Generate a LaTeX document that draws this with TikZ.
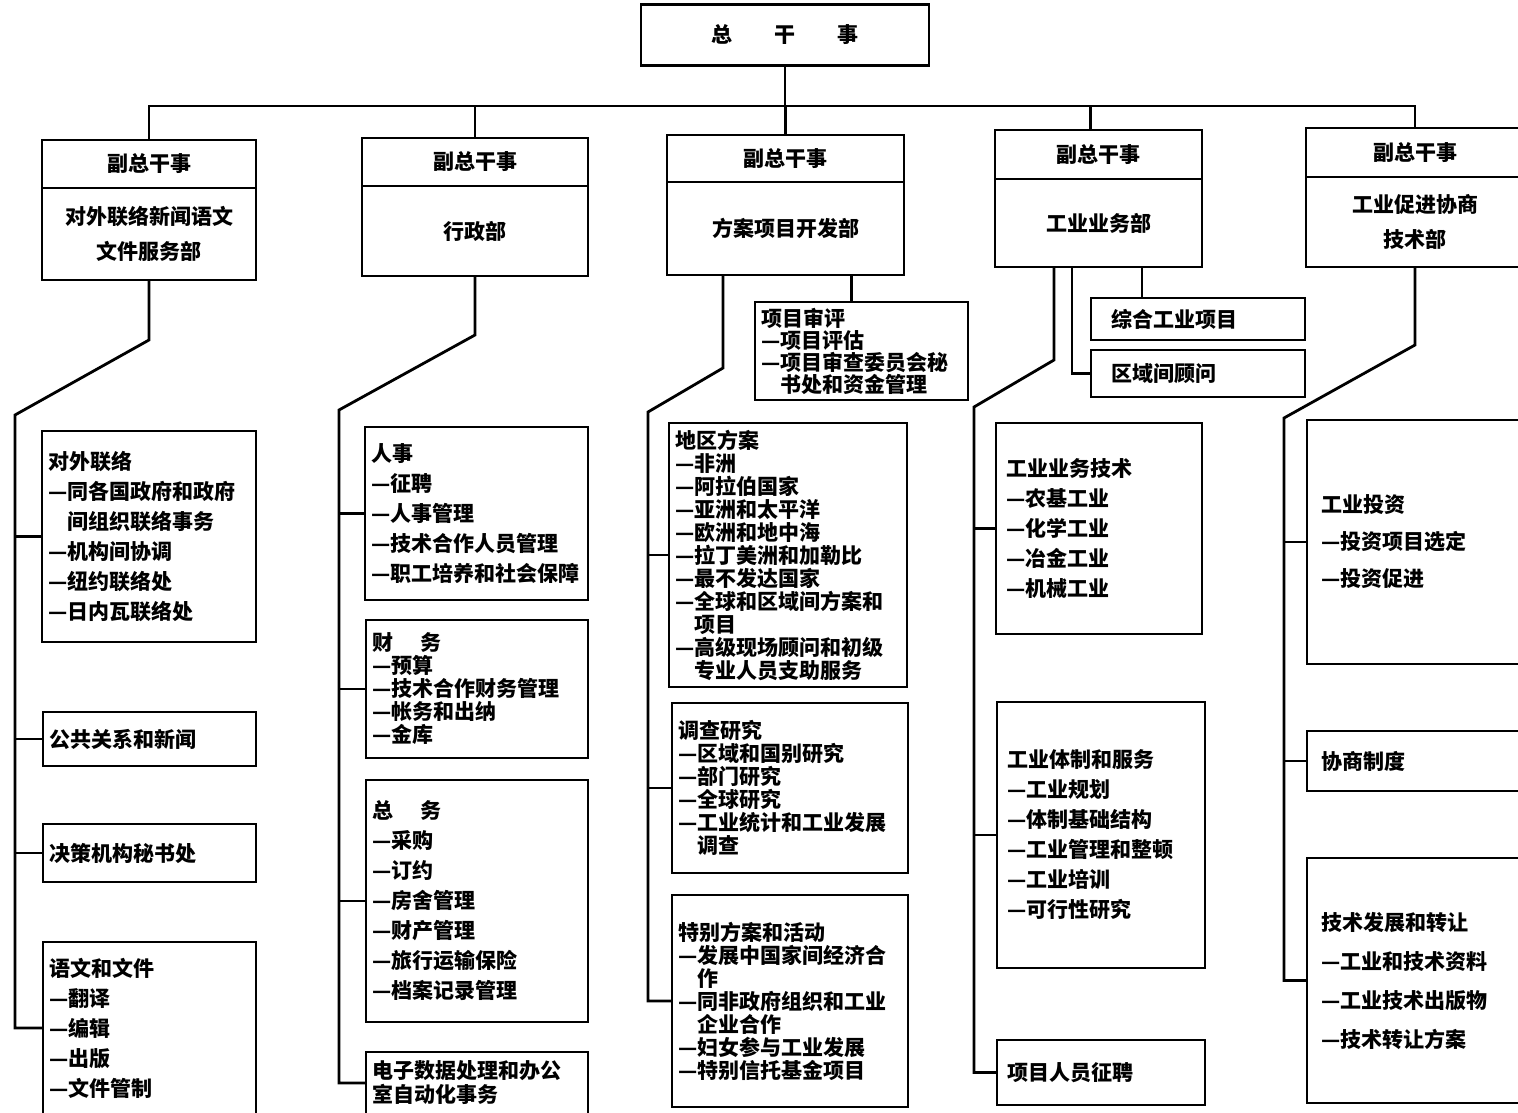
\documentclass[tikz,border=0pt]{standalone}
\usepackage{fontspec}
\setmainfont{Noto Sans CJK SC}
\usetikzlibrary{positioning}

\tikzset{
  conn/.style={line width=1.4pt},
  frame/.style={draw,rectangle,line width=1.4pt,outer sep=0pt},
  vhead/.style={frame,anchor=north west,font=\bfseries\fontsize{10.5}{12}\selectfont},
  dept/.style={frame,align=center,font=\bfseries\fontsize{10.5}{17.5}\selectfont},
  unit/.style={frame,anchor=north west,align=left,inner xsep=3pt,inner ysep=1pt,font=\bfseries\fontsize{10.5}{15}\selectfont},
  dense/.style={font=\bfseries\fontsize{10.5}{11.5}\selectfont},
}

\begin{document}
\begin{tikzpicture}[x=0.5pt,y=-0.5pt]
\path[use as bounding box,fill=white] (0,0) rectangle (1518,1112);

        % director-general
\node[frame,minimum width=144pt,minimum height=30.5pt,font=\bfseries\fontsize{10.5}{12}\selectfont] (gen) at (785,35) {总\hspace{2em}干\hspace{2em}事};
\coordinate (bar) at (785,106);

        % deputies and departments
\node[vhead,minimum width=107pt,minimum height=24pt] (hA) at (42,140) {副总干事};
\node[dept,below=0pt of hA,minimum width=107pt,minimum height=46pt] (dA) {对外联络新闻语文\\文件服务部};
\node[vhead,minimum width=113pt,minimum height=24pt] (hB) at (362,138) {副总干事};
\node[dept,below=0pt of hB,minimum width=113pt,minimum height=45pt] (dB) {行政部};
\node[vhead,minimum width=118.5pt,minimum height=23.5pt] (hC) at (667,135) {副总干事};
\node[dept,below=0pt of hC,minimum width=118.5pt,minimum height=46.5pt] (dC) {方案项目开发部};
\node[vhead,minimum width=103.5pt,minimum height=24.5pt] (hD) at (995,130) {副总干事};
\node[dept,below=0pt of hD,minimum width=103.5pt,minimum height=44pt] (dD) {工业业务部};
\node[vhead,minimum width=109pt,minimum height=24.5pt] (hE) at (1306,128) {副总干事};
\node[dept,below=0pt of hE,minimum width=109pt,minimum height=45pt] (dE) {工业促进协商\\技术部};

\draw[conn] (gen.south) -- (bar);
\draw[conn] (hA.north) -- (hA.north |- bar) -- (hE.north |- bar) -- (hE.north);
\foreach \v in {hB,hC}
  \draw[conn] (\v.north) -- (\v.north |- bar);
\coordinate (dTop) at ([xshift=-4pt]hD.north);
\draw[conn] (dTop) -- (dTop |- bar);

        % column A
\node[unit,text width=101pt,minimum height=105.5pt] (sA1) at (42,431) {对外联络\\—同各国政府和政府\\\hphantom{—}间组织联络事务\\—机构间协调\\—纽约联络处\\—日内瓦联络处};
\node[unit,text width=100.5pt,minimum height=27pt] (sA2) at (43,712) {公共关系和新闻};
\node[unit,text width=100.5pt,minimum height=29pt] (sA3) at (43,824) {决策机构秘书处};
\node[unit,text width=100.5pt,minimum height=86pt] (sA4) at (43,942) {语文和文件\\—翻译\\—编辑\\—出版\\—文件管制};
\coordinate (aKnee) at (149,340);
\coordinate (aFoot) at (15,415);
\draw[conn] (dA.south) -- (aKnee) -- (aFoot) -- (aFoot |- sA4.west) -- (sA4.west);
\foreach \s in {sA1,sA2,sA3}
  \draw[conn] (aFoot |- \s.west) -- (\s.west);

        % column B
\node[unit,text width=105.5pt,minimum height=86.5pt] (sB1) at (365,427) {人事\\—征聘\\—人事管理\\—技术合作人员管理\\—职工培养和社会保障};
\node[unit,dense,text width=105pt,minimum height=69pt] (sB2) at (366,620) {财\hspace{1.3em}务\\—预算\\—技术合作财务管理\\—帐务和出纳\\—金库};
\node[unit,text width=105pt,minimum height=121pt] (sB3) at (366,780) {总\hspace{1.3em}务\\—采购\\—订约\\—房舍管理\\—财产管理\\—旅行运输保险\\—档案记录管理};
\node[unit,text width=105pt,minimum height=31pt,font=\bfseries\fontsize{10.5}{12}\selectfont] (sB4) at (366,1052) {电子数据处理和办公\\室自动化事务};
\coordinate (bKnee) at (475,335);
\coordinate (bFoot) at (339,410);
\draw[conn] (dB.south) -- (bKnee) -- (bFoot) -- (bFoot |- sB4.west) -- (sB4.west);
\foreach \s in {sB1,sB2,sB3}
  \draw[conn] (bFoot |- \s.west) -- (\s.west);

        % column C
\node[unit,text width=100.5pt,minimum height=49pt,font=\bfseries\fontsize{10.5}{11}\selectfont] (sCr) at (755,302) {项目审评\\—项目评估\\—项目审查委员会秘\\\hphantom{—}书处和资金管理};
\node[unit,dense,text width=113pt,minimum height=132pt] (sC1) at (669,423) {地区方案\\—非洲\\—阿拉伯国家\\—亚洲和太平洋\\—欧洲和地中海\\—拉丁美洲和加勒比\\—最不发达国家\\—全球和区域间方案和\\\hphantom{—}项目\\—高级现场顾问和初级\\\hphantom{—}专业人员支助服务};
\node[unit,dense,text width=112pt,minimum height=85pt] (sC2) at (672,703) {调查研究\\—区域和国别研究\\—部门研究\\—全球研究\\—工业统计和工业发展\\\hphantom{—}调查};
\node[unit,dense,text width=112pt,minimum height=106pt] (sC3) at (672,895) {特别方案和活动\\—发展中国家间经济合\\\hphantom{—}作\\—同非政府组织和工业\\\hphantom{—}企业合作\\—妇女参与工业发展\\—特别信托基金项目};
\coordinate (cKnee) at (723,368);
\coordinate (cFoot) at (648,412);
\draw[conn] (cKnee |- dC.south) -- (cKnee) -- (cFoot) -- (cFoot |- sC3.west) -- (sC3.west);
\foreach \s in {sC1,sC2}
  \draw[conn] (cFoot |- \s.west) -- (\s.west);
\coordinate (cTap) at ([xshift=-5pt]sCr.north);
\draw[conn] (cTap |- dC.south) -- (cTap);

        % column D
\node[unit,inner xsep=10pt,text width=87pt,minimum height=21pt] (zh) at (1091,298) {综合工业项目};
\node[unit,inner xsep=10pt,text width=87pt,minimum height=23.5pt] (rg) at (1091,350) {区域间顾问};
\node[unit,inner xsep=5pt,text width=93pt,minimum height=105.5pt] (sD1) at (996,423) {工业业务技术\\—农基工业\\—化学工业\\—冶金工业\\—机械工业};
\node[unit,inner xsep=5pt,text width=94pt,minimum height=133pt] (sD2) at (997,702) {工业体制和服务\\—工业规划\\—体制基础结构\\—工业管理和整顿\\—工业培训\\—可行性研究};
\node[unit,inner xsep=5pt,text width=94pt,minimum height=32.5pt] (sD3) at (997,1040) {项目人员征聘};
\coordinate (dKnee) at (1054,360);
\coordinate (dFoot) at (974,407);
\draw[conn] (dKnee |- dD.south) -- (dKnee) -- (dFoot) -- (dFoot |- sD3.west) -- (sD3.west);
\foreach \s in {sD1,sD2}
  \draw[conn] (dFoot |- \s.west) -- (\s.west);
\coordinate (dElbow) at (1072,0);
\draw[conn] (dElbow |- dD.south) -- (dElbow |- rg.west) -- (rg.west);
\coordinate (dTap) at ([xshift=-28pt]zh.north);
\draw[conn] (dTap |- dD.south) -- (dTap);

        % column E
\node[unit,inner xsep=7pt,text width=95pt,minimum height=122pt,font=\bfseries\fontsize{10.5}{18.5}\selectfont] (sE1) at (1307,420) {工业投资\\—投资项目选定\\—投资促进};
\node[unit,inner xsep=7pt,text width=95pt,minimum height=30pt] (sE2) at (1307,731) {协商制度};
\node[unit,inner xsep=7pt,text width=95pt,minimum height=122.5pt,font=\bfseries\fontsize{10.5}{19.5}\selectfont] (sE3) at (1307,858) {技术发展和转让\\—工业和技术资料\\—工业技术出版物\\—技术转让方案};
\coordinate (eKnee) at (1415,345);
\coordinate (eFoot) at (1284,418);
\draw[conn] (dE.south) -- (eKnee) -- (eFoot) -- (eFoot |- sE3.west) -- (sE3.west);
\foreach \s in {sE1,sE2}
  \draw[conn] (eFoot |- \s.west) -- (\s.west);
\end{tikzpicture}
\end{document}
